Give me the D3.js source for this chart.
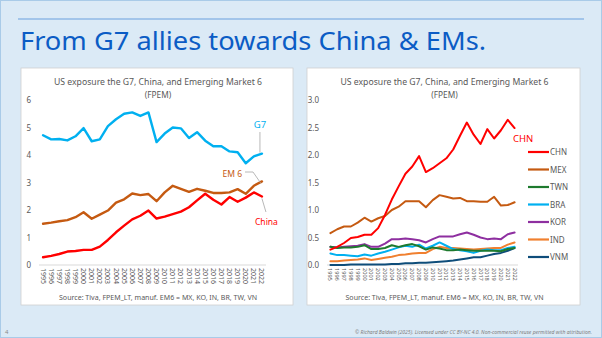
<!DOCTYPE html>
<html><head><meta charset="utf-8">
<script src="https://cdn.jsdelivr.net/npm/d3@7"></script>
<style>html,body{margin:0;padding:0;background:#dbeaf6;}svg{display:block;}</style>
</head><body>
<script>
const years = d3.range(1995, 2023);
const g7   = [4.72,4.57,4.58,4.53,4.68,4.98,4.50,4.57,5.05,5.30,5.50,5.55,5.42,5.55,4.47,4.78,5.00,4.97,4.62,4.83,4.52,4.32,4.32,4.13,4.10,3.70,3.95,4.05];
const em6  = [1.50,1.54,1.59,1.63,1.74,1.92,1.68,1.83,1.98,2.27,2.39,2.60,2.54,2.58,2.32,2.64,2.88,2.77,2.66,2.77,2.70,2.62,2.62,2.64,2.76,2.59,2.88,3.04];
const china= [0.28,0.33,0.40,0.49,0.51,0.55,0.55,0.67,0.91,1.19,1.43,1.66,1.79,1.98,1.69,1.76,1.85,1.94,2.10,2.35,2.59,2.37,2.20,2.47,2.30,2.45,2.64,2.49];
const mex  = [0.58,0.65,0.70,0.70,0.77,0.86,0.79,0.85,0.89,1.00,1.06,1.16,1.16,1.16,1.05,1.18,1.27,1.24,1.21,1.22,1.16,1.16,1.15,1.15,1.24,1.08,1.09,1.14];
const twn  = [0.33,0.31,0.32,0.32,0.33,0.36,0.29,0.29,0.31,0.36,0.33,0.36,0.38,0.34,0.28,0.32,0.30,0.27,0.27,0.28,0.27,0.26,0.26,0.26,0.26,0.25,0.29,0.31];
const bra  = [0.21,0.18,0.18,0.17,0.16,0.19,0.17,0.21,0.24,0.28,0.32,0.35,0.33,0.37,0.30,0.35,0.41,0.35,0.29,0.27,0.25,0.22,0.26,0.28,0.27,0.27,0.31,0.33];
const kor  = [0.33,0.32,0.33,0.34,0.35,0.38,0.33,0.33,0.39,0.47,0.47,0.48,0.47,0.45,0.41,0.47,0.52,0.52,0.52,0.56,0.59,0.55,0.50,0.47,0.48,0.47,0.56,0.59];
const ind  = [0.07,0.07,0.08,0.09,0.10,0.12,0.09,0.11,0.13,0.15,0.18,0.19,0.21,0.22,0.22,0.29,0.33,0.31,0.31,0.30,0.29,0.28,0.29,0.30,0.31,0.31,0.37,0.41];
const vnm  = [0.00,0.00,0.00,0.01,0.01,0.01,0.01,0.01,0.01,0.02,0.02,0.03,0.03,0.04,0.04,0.05,0.06,0.07,0.08,0.10,0.12,0.14,0.14,0.17,0.20,0.22,0.26,0.31];
const leftTicks = [0,1,2,3,4,5,6];
const rightTicks = [0,0.5,1,1.5,2,2.5,3];
const chartTitle1 = "US exposure the G7, China, and Emerging Market 6";
const chartTitle2 = "(FPEM)";
const sourceText = "Source: Tiva, FPEM_LT, manuf. EM6 = MX, KO, IN, BR, TW, VN";

const W = 602, H = 338;
const FONT = "'Noto Sans', 'Open Sans', sans-serif";
const svg = d3.select("body").append("svg").attr("width", W).attr("height", H);

svg.append("rect").attr("x",0.5).attr("y",0.5).attr("width",W-1).attr("height",H-1)
  .attr("fill","#dbeaf6").attr("stroke","#a9cbe8");
svg.append("line").attr("x1",18).attr("x2",584).attr("y1",19).attr("y2",19)
  .attr("stroke","#8fb8e6").attr("stroke-width",1.5);
const title = svg.append("text").attr("x",20).attr("y",50).attr("fill","#0b5cc5")
  .attr("font-family",FONT).attr("font-size",26).text("From G7 allies towards China & EMs.");
title.attr("textLength",466).attr("lengthAdjust","spacingAndGlyphs");

function panel(x0, x1, axL, axR, yMax, ticks, fmt, labelX, yearFont) {
  svg.append("rect").attr("x",x0).attr("y",68).attr("width",x1-x0).attr("height",237)
    .attr("fill","#fff").attr("stroke","#d0d0d0").attr("stroke-width",0.8);
  const cx = (x0+x1)/2 + 1;
  svg.append("text").attr("x",cx).attr("y",85).attr("text-anchor","middle")
    .attr("font-family",FONT).attr("font-size",8.3).attr("fill","#595959")
    .attr("textLength",208).attr("lengthAdjust","spacingAndGlyphs").text(chartTitle1);
  svg.append("text").attr("x",cx).attr("y",98).attr("text-anchor","middle")
    .attr("font-family",FONT).attr("font-size",8.3).attr("fill","#595959").text(chartTitle2);
  const x = d3.scaleBand().domain(years).range([axL, axR]);
  const y = d3.scaleLinear().domain([0, yMax]).range([265, 100]);
  const yAxis = svg.append("g").attr("transform",`translate(${labelX},0)`)
    .call(d3.axisLeft(y).tickValues(ticks).tickFormat(fmt).tickSize(0).tickPadding(0));
  yAxis.select(".domain").remove();
  yAxis.selectAll("text").attr("font-family",FONT).attr("font-size",8).attr("fill","#595959");
  svg.append("line").attr("x1",axL).attr("x2",axR).attr("y1",y(0)).attr("y2",y(0))
    .attr("stroke","#d9d9d9").attr("stroke-width",1);
  const xAxis = svg.append("g").attr("transform",`translate(0,${y(0)})`)
    .call(d3.axisBottom(x).tickSize(0).tickPadding(0));
  xAxis.select(".domain").remove();
  xAxis.selectAll("text").attr("font-family",FONT).attr("font-size",yearFont).attr("fill","#595959")
    .attr("text-anchor","start").attr("dy",null).attr("y",0)
    .attr("transform","translate(" + (-yearFont*0.35) + ",3) rotate(90)");
  svg.append("text").attr("x",cx).attr("y",300).attr("text-anchor","middle")
    .attr("font-family",FONT).attr("font-size",7).attr("fill","#595959")
    .attr("textLength",198).attr("lengthAdjust","spacingAndGlyphs").text(sourceText);
  return {x, y};
}

function drawLine(sc, vals, color, w) {
  const line = d3.line().x((d,i)=>sc.x(years[i]) + sc.x.bandwidth()/2).y(d=>sc.y(d));
  svg.append("path").datum(vals).attr("d",line).attr("fill","none")
    .attr("stroke",color).attr("stroke-width",w).attr("stroke-linejoin","round").attr("stroke-linecap","round");
}

// Left chart
const L = panel(21, 293, 39, 266, 6, leftTicks, d3.format("d"), 31, 7);
drawLine(L, g7, "#00b0f0", 2.4);
drawLine(L, em6, "#c55a11", 2.4);
drawLine(L, china, "#ff0000", 2.4);
const last = years.length-1;
const lx = L.x(years[last]) + L.x.bandwidth()/2;
svg.append("line").attr("x1",lx-2).attr("x2",lx-2).attr("y1",132).attr("y2",L.y(g7[last])-1).attr("stroke","#a6a6a6").attr("stroke-width",0.8);
svg.append("text").attr("x",lx-2).attr("y",128).attr("text-anchor","middle").attr("font-family",FONT)
  .attr("font-size",9.5).attr("fill","#00b0f0").text("G7");
svg.append("polyline").attr("points",`245,172 253,172 ${lx-1},${L.y(em6[last])+2}`).attr("fill","none").attr("stroke","#a6a6a6").attr("stroke-width",0.8);
svg.append("text").attr("x",242).attr("y",177).attr("text-anchor","end").attr("font-family",FONT)
  .attr("font-size",8.5).attr("fill","#c55a11").text("EM 6");
svg.append("line").attr("x1",lx).attr("x2",lx+4).attr("y1",L.y(china[last])+2).attr("y2",212).attr("stroke","#a6a6a6").attr("stroke-width",0.8);
svg.append("text").attr("x",255).attr("y",225).attr("font-family",FONT)
  .attr("font-size",8.5).attr("fill","#ff0000").text("China");

// Right chart
const R = panel(307, 580, 327, 518, 3, rightTicks, d3.format(".1f"), 319, 5.6);
const series = [
  {name:"CHN", vals:china, color:"#ff0000"},
  {name:"MEX", vals:mex, color:"#c55a11"},
  {name:"TWN", vals:twn, color:"#1e7a2e"},
  {name:"BRA", vals:bra, color:"#00b0f0"},
  {name:"KOR", vals:kor, color:"#8e2fa0"},
  {name:"IND", vals:ind, color:"#f08030"},
  {name:"VNM", vals:vnm, color:"#0e4d7a"}
];
[...series].reverse().forEach(s => drawLine(R, s.vals, s.color, 2));
svg.append("text").attr("x",513).attr("y",142).attr("font-family",FONT)
  .attr("font-size",9.5).attr("fill","#ff0000").text("CHN");
series.forEach((s,i) => {
  const yy = 152 + i*17.5;
  svg.append("line").attr("x1",528).attr("x2",549).attr("y1",yy).attr("y2",yy)
    .attr("stroke",s.color).attr("stroke-width",2.2);
  svg.append("text").attr("x",550).attr("y",yy+3).attr("font-family",FONT)
    .attr("font-size",8).attr("fill","#595959").text(s.name);
});

// Footer
svg.append("text").attr("x",5).attr("y",334).attr("font-family",FONT).attr("font-size",6).attr("fill","#8a8a8a").text("4");
svg.append("text").attr("x",592).attr("y",334).attr("text-anchor","end").attr("font-family",FONT)
  .attr("font-size",5).attr("font-style","italic").attr("fill","#7f7f7f")
  .attr("textLength",237).attr("lengthAdjust","spacingAndGlyphs")
  .text("© Richard Baldwin (2025). Licensed under CC BY-NC 4.0. Non-commercial reuse permitted with attribution.");
</script>
</body></html>
